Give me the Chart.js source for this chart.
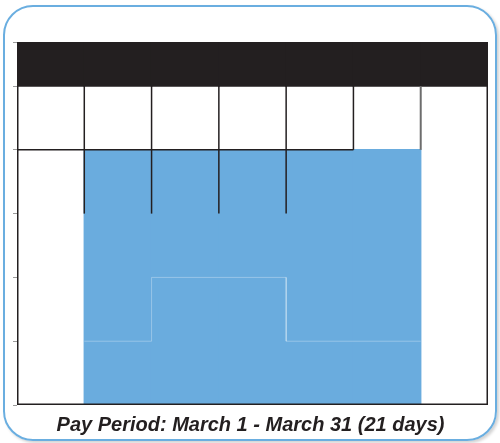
<!DOCTYPE html>
<html>
<head>
<meta charset="utf-8">
<script src="https://cdn.jsdelivr.net/npm/chart.js@4.4.0/dist/chart.umd.min.js"></script>
<style>
  html, body { margin: 0; padding: 0; background: #fff; }
  #frame {
    position: absolute; left: 3px; top: 5px; width: 494px; height: 436px;
    box-sizing: border-box; border: 2.5px solid #6aaee0; border-radius: 30px;
    box-shadow: 2px 2px 3px rgba(0,0,0,0.18);
  }
  #wrap { position: absolute; left: 0; top: 0; width: 500px; height: 443px; }
</style>
</head>
<body>
<div id="frame"></div>
<div id="wrap"><canvas id="cal"></canvas></div>
<script>
// weekday columns, Sun..Sat
const days = ['Sun', 'Mon', 'Tue', 'Wed', 'Thu', 'Fri', 'Sat'];
// rows worked per weekday column (0 = bottom week row, 5 = top of grid)
const workRows = [null, [0, 4], [0, 4], [0, 4], [0, 4], [0, 4], null];
// black header band above the week rows
const headerRows = [5, 5.69];
// calendar lines, each a polyline in [column, row] units
const frameLine = [[0, 5], [0, 0], [7, 0], [7, 5]];
const cellLines = [
  [[1, 3], [1, 5]], [[2, 3], [2, 5]], [[3, 3], [3, 5]], [[4, 3], [4, 5]],
  [[5, 4], [5, 5]], [[0, 4], [5, 4]]
];
const lastCellLine = [[6, 4], [6, 5]];
const monthStep = [[1, 1], [2, 1], [2, 2], [4, 2], [4, 1], [6, 1]];
const title = 'Pay Period: March 1 - March 31 (21 days)';

const ink = '#231f20';
const blue = '#6aacde';

const pts = line => line.map(p => ({ x: p[0], y: p[1] }));
const lineSet = (line, color, width) => ({
  type: 'line', data: pts(line), borderColor: color, borderWidth: width,
  pointRadius: 0, fill: false, tension: 0, borderJoinStyle: 'miter', order: 0
});

const datasets = [
  lineSet(frameLine, ink, 3),
  ...cellLines.map(l => lineSet(l, ink, 1.5)),
  lineSet(lastCellLine, '#6d6d6d', 2),
  lineSet(monthStep, 'rgba(255,255,255,0.3)', 1),
  {
    type: 'bar', label: 'header', grouped: false, order: 2,
    data: days.map((d, i) => ({ x: i + 0.5, y: headerRows })),
    backgroundColor: ink, borderWidth: 0, inflateAmount: 0.7,
    barPercentage: 1, categoryPercentage: 1
  },
  {
    type: 'bar', label: 'work days', grouped: false, order: 1,
    data: days.map((d, i) => ({ x: i + 0.5, y: workRows[i] })),
    backgroundColor: blue, borderWidth: 0, inflateAmount: 0.7,
    barPercentage: 1, categoryPercentage: 1
  }
];

new Chart(document.getElementById('cal'), {
  type: 'bar',
  data: { datasets: datasets },
  options: {
    responsive: true,
    maintainAspectRatio: false,
    animation: false,
    layout: { padding: { left: 13, right: 12, top: 42, bottom: 0 } },
    plugins: {
      legend: { display: false },
      tooltip: { enabled: false },
      title: {
        display: true, text: title, position: 'bottom', color: ink,
        font: { family: 'Liberation Sans', size: 20, weight: 'bold', style: 'italic' },
        padding: { top: 8, bottom: 6 }
      }
    },
    scales: {
      x: { type: 'linear', min: 0, max: 7, offset: false, display: false, ticks: { stepSize: 1 } },
      y: {
        min: 0, max: 5.69,
        ticks: { display: false, stepSize: 1 },
        border: { display: false },
        grid: { drawOnChartArea: false, tickLength: 4, color: '#9a9a9a', lineWidth: 1 }
      }
    }
  }
});
</script>
</body>
</html>
